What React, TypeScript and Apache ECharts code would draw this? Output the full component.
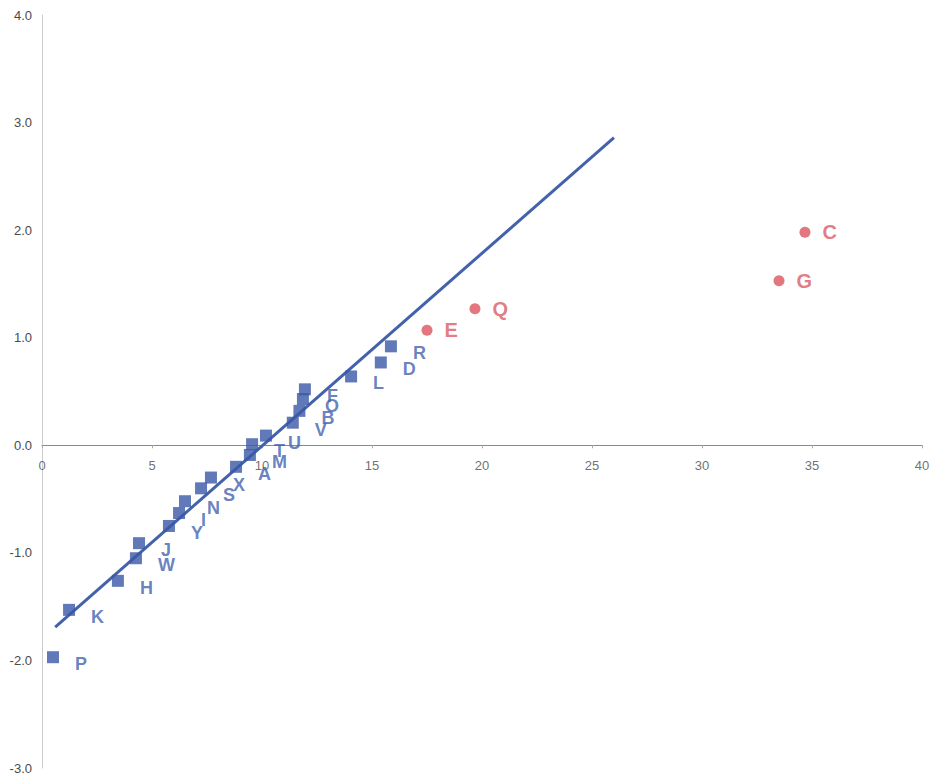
import React, { useEffect, useRef } from "react";
import * as echarts from "echarts";

const blueNames = ["P", "K", "H", "W", "J", "Y", "I", "N", "S", "X", "A", "M", "T", "U", "V", "B", "O", "F", "L", "D", "R"];
const blueX = [0.5, 1.23, 3.45, 4.27, 4.41, 5.77, 6.23, 6.5, 7.23, 7.68, 8.82, 9.45, 9.55, 10.18, 11.4, 11.7, 11.86, 11.95, 14.05, 15.4, 15.86];
const blueY = [-1.97, -1.53, -1.26, -1.05, -0.91, -0.75, -0.63, -0.52, -0.4, -0.3, -0.2, -0.09, 0.01, 0.09, 0.21, 0.32, 0.43, 0.52, 0.64, 0.77, 0.92];

const redNames = ["E", "Q", "G", "C"];
const redX = [17.5, 19.68, 33.5, 34.68];
const redY = [1.07, 1.27, 1.53, 1.98];

const trendX = [0.6, 26];
const trendY = [-1.69, 2.86];

const xTicks = [0, 5, 10, 15, 20, 25, 30, 35, 40];
const yTicks = [-3, -2, -1, 0, 1, 2, 3, 4];

export default function App() {
  const ref = useRef<HTMLDivElement>(null);
  useEffect(() => {
    document.body.style.margin = "0";
    if (!ref.current) return;
    const chart = echarts.init(ref.current, null, { renderer: "svg" });
    const font = "'Liberation Sans', Arial, sans-serif";
    chart.setOption({
      animation: false,
      backgroundColor: "#ffffff",
      grid: { left: 42, right: 10, top: 15, bottom: 14, containLabel: false, outerBoundsMode: "none" },
      xAxis: {
        type: "value",
        min: xTicks[0],
        max: xTicks[xTicks.length - 1],
        interval: 5,
        axisLine: { onZero: true, lineStyle: { color: "#8a8a8a", width: 1 } },
        axisTick: { show: true, length: 3, lineStyle: { color: "#aaaaaa" } },
        axisLabel: { show: false },
        splitLine: { show: false },
      },
      yAxis: {
        type: "value",
        min: yTicks[0],
        max: yTicks[yTicks.length - 1],
        interval: 1,
        axisLine: { show: true, onZero: false, lineStyle: { color: "#cccccc", width: 1 } },
        axisTick: { show: false },
        axisLabel: { color: "#4a4a4a", fontSize: 13, fontFamily: font, margin: 10, formatter: (v: number) => v.toFixed(1) },
        splitLine: { show: false },
      },
      series: [
        {
          type: "scatter",
          silent: true,
          symbolSize: 0,
          data: xTicks.map((t) => ({ name: String(t), value: [t, 0] })),
          label: {
            show: true,
            position: "bottom",
            distance: 14,
            formatter: "{b}",
            color: "#4a4a4a",
            fontSize: 13,
            fontFamily: font,
          },
          z: 1,
        },
        {
          type: "line",
          data: trendX.map((x, i) => [x, trendY[i]]),
          showSymbol: false,
          symbol: "none",
          lineStyle: { color: "#4262ab", width: 3 },
          z: 3,
        },
        {
          type: "scatter",
          symbol: "rect",
          symbolSize: 12,
          itemStyle: { color: "#3a58a6" },
          data: blueNames.map((n, i) => ({ name: n, value: [blueX[i], blueY[i]] })),
          label: {
            show: true,
            position: "right",
            distance: 16,
            offset: [0, 7],
            formatter: "{b}",
            color: "#4262ae",
            fontSize: 18,
            fontWeight: "bold",
            fontFamily: font,
          },
          z: 4,
        },
        {
          type: "scatter",
          symbol: "circle",
          symbolSize: 11,
          itemStyle: { color: "#db5560" },
          data: redNames.map((n, i) => ({ name: n, value: [redX[i], redY[i]] })),
          label: {
            show: true,
            position: "right",
            distance: 12,
            offset: [0, 0],
            formatter: "{b}",
            color: "#db5a64",
            fontSize: 20,
            fontWeight: "bold",
            fontFamily: font,
          },
          z: 4,
        },
      ],
    });
    return () => chart.dispose();
  }, []);
  return <div ref={ref} style={{ width: 932, height: 782 }} />;
}
